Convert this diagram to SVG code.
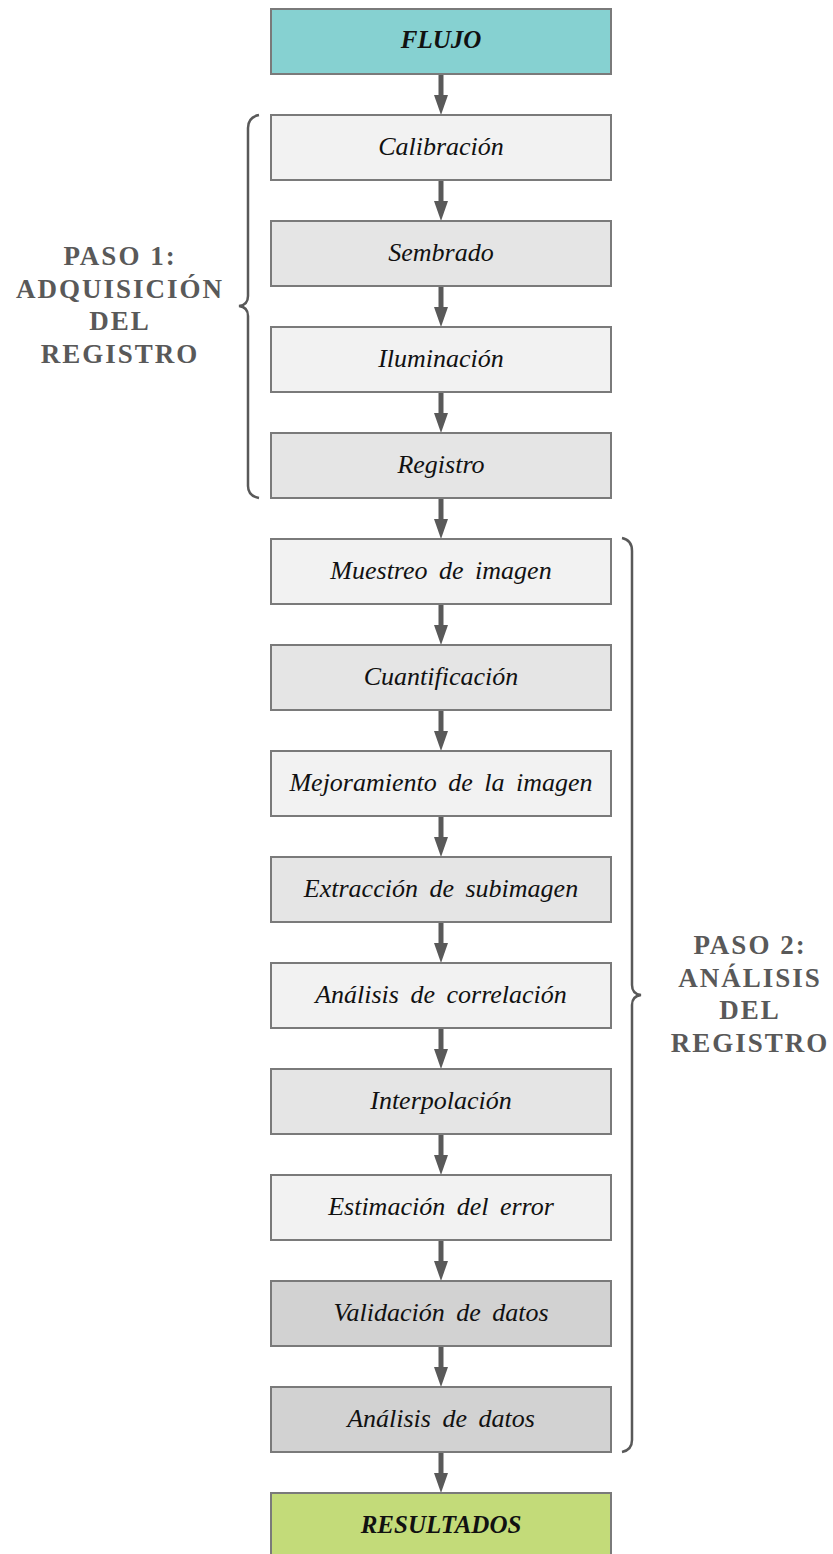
<svg xmlns="http://www.w3.org/2000/svg" width="833" height="1554" viewBox="0 0 833 1554">
<style>
.box{stroke:#7a7a7a;stroke-width:2}
.l{fill:#f2f2f2}.m{fill:#e5e5e5}.d{fill:#d2d2d2}
.t{font-family:"Liberation Serif",serif;font-style:italic;font-size:26px;fill:#111;text-anchor:middle;word-spacing:5px}
.tb{font-family:"Liberation Serif",serif;font-style:italic;font-weight:bold;font-size:25px;fill:#111;text-anchor:middle}
.side{font-family:"Liberation Serif",serif;font-weight:bold;font-size:27px;fill:#595959;text-anchor:middle;letter-spacing:2px}
.conn line{stroke:#595959;stroke-width:5}
.brace{fill:none;stroke:#595959;stroke-width:2.5}
</style>
<defs>
<marker id="ah" viewBox="0 0 20 14" markerWidth="20" markerHeight="14" refX="0" refY="7" orient="auto" markerUnits="userSpaceOnUse">
<path d="M0,0 L20,7 L0,14 z" fill="#595959"/>
</marker>
</defs>
<g id="connectors" class="conn">
<line x1="441" y1="74" x2="441" y2="95" marker-end="url(#ah)"/>
<line x1="441" y1="180" x2="441" y2="201" marker-end="url(#ah)"/>
<line x1="441" y1="286" x2="441" y2="307" marker-end="url(#ah)"/>
<line x1="441" y1="392" x2="441" y2="413" marker-end="url(#ah)"/>
<line x1="441" y1="498" x2="441" y2="519" marker-end="url(#ah)"/>
<line x1="441" y1="604" x2="441" y2="625" marker-end="url(#ah)"/>
<line x1="441" y1="710" x2="441" y2="731" marker-end="url(#ah)"/>
<line x1="441" y1="816" x2="441" y2="837" marker-end="url(#ah)"/>
<line x1="441" y1="922" x2="441" y2="943" marker-end="url(#ah)"/>
<line x1="441" y1="1028" x2="441" y2="1049" marker-end="url(#ah)"/>
<line x1="441" y1="1134" x2="441" y2="1155" marker-end="url(#ah)"/>
<line x1="441" y1="1240" x2="441" y2="1261" marker-end="url(#ah)"/>
<line x1="441" y1="1346" x2="441" y2="1367" marker-end="url(#ah)"/>
<line x1="441" y1="1452" x2="441" y2="1473" marker-end="url(#ah)"/>
</g>
<g id="n-flujo"><rect class="box" x="271" y="9" width="340" height="65" fill="#86d1d1"/><text class="tb" x="441" y="48">FLUJO</text></g>
<g id="n-calibracion"><rect class="box l" x="271" y="115" width="340" height="65"/><text class="t" x="441" y="155">Calibración</text></g>
<g id="n-sembrado"><rect class="box m" x="271" y="221" width="340" height="65"/><text class="t" x="441" y="261">Sembrado</text></g>
<g id="n-iluminacion"><rect class="box l" x="271" y="327" width="340" height="65"/><text class="t" x="441" y="367">Iluminación</text></g>
<g id="n-registro"><rect class="box m" x="271" y="433" width="340" height="65"/><text class="t" x="441" y="473">Registro</text></g>
<g id="n-muestreo"><rect class="box l" x="271" y="539" width="340" height="65"/><text class="t" x="441" y="579">Muestreo de imagen</text></g>
<g id="n-cuantificacion"><rect class="box m" x="271" y="645" width="340" height="65"/><text class="t" x="441" y="685">Cuantificación</text></g>
<g id="n-mejoramiento"><rect class="box l" x="271" y="751" width="340" height="65"/><text class="t" x="441" y="791">Mejoramiento de la imagen</text></g>
<g id="n-extraccion"><rect class="box m" x="271" y="857" width="340" height="65"/><text class="t" x="441" y="897">Extracción de subimagen</text></g>
<g id="n-correlacion"><rect class="box l" x="271" y="963" width="340" height="65"/><text class="t" x="441" y="1003">Análisis de correlación</text></g>
<g id="n-interpolacion"><rect class="box m" x="271" y="1069" width="340" height="65"/><text class="t" x="441" y="1109">Interpolación</text></g>
<g id="n-estimacion"><rect class="box l" x="271" y="1175" width="340" height="65"/><text class="t" x="441" y="1215">Estimación del error</text></g>
<g id="n-validacion"><rect class="box d" x="271" y="1281" width="340" height="65"/><text class="t" x="441" y="1321">Validación de datos</text></g>
<g id="n-analisis-datos"><rect class="box d" x="271" y="1387" width="340" height="65"/><text class="t" x="441" y="1427">Análisis de datos</text></g>
<g id="n-resultados"><rect class="box" x="271" y="1493" width="340" height="65" fill="#c3db79"/><text class="tb" x="441" y="1533">RESULTADOS</text></g>
<g id="brace-1">
<path class="brace" d="M259,115 Q248,117 248,128 L248,296 Q248,305 239,306 Q248,307 248,316 L248,486 Q248,496 259,498"/>
<text class="side" x="120" y="265">PASO 1:</text>
<text class="side" x="120" y="298">ADQUISICIÓN</text>
<text class="side" x="120" y="330">DEL</text>
<text class="side" x="120" y="363">REGISTRO</text>
</g>
<g id="brace-2">
<path class="brace" d="M622,538 Q632,540 632,551 L632,985 Q632,994 641,995 Q632,996 632,1005 L632,1440 Q632,1450 622,1452"/>
<text class="side" x="750" y="954">PASO 2:</text>
<text class="side" x="750" y="987">ANÁLISIS</text>
<text class="side" x="750" y="1019">DEL</text>
<text class="side" x="750" y="1052">REGISTRO</text>
</g>
</svg>
